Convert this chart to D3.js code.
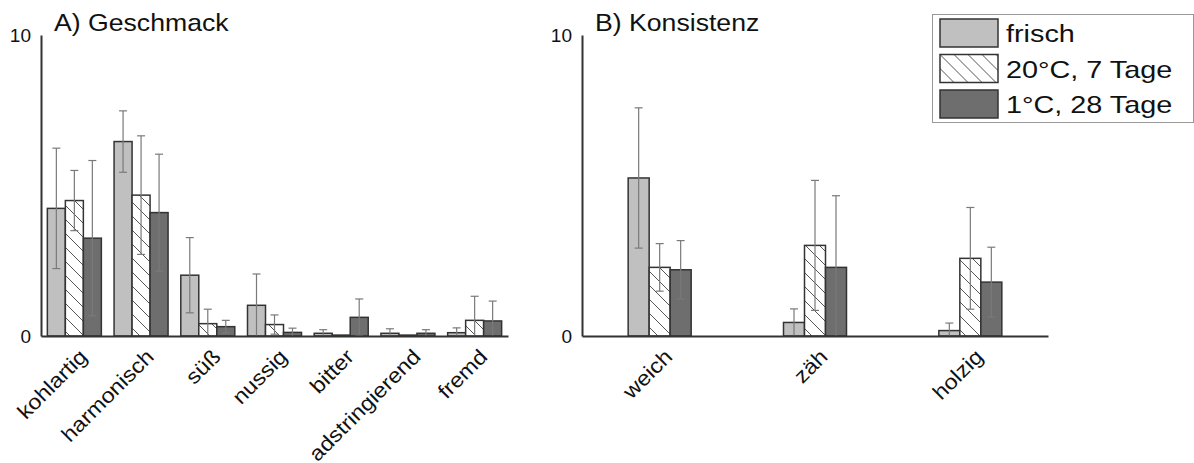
<!DOCTYPE html>
<html>
<head>
<meta charset="utf-8">
<script src="https://cdn.jsdelivr.net/npm/d3@7"></script>
<style>
  html, body { margin: 0; padding: 0; background: #fff; }
  svg { display: block; font-family: "Liberation Sans", Arial, sans-serif; }
</style>
</head>
<body>
<svg id="chart" width="1194" height="463"></svg>
<script>
const series = ["frisch", "20°C, 7 Tage", "1°C, 28 Tage"];

// A) Geschmack
const catsA = ["kohlartig", "harmonisch", "süß", "nussig", "bitter", "adstringierend", "fremd"];
const geschmackFrisch = [4.24, 6.46, 2.02, 1.02, 0.09, 0.09, 0.11];
const geschmack20 = [4.50, 4.68, 0.41, 0.38, 0.03, 0.03, 0.52];
const geschmack1 = [3.25, 4.10, 0.31, 0.12, 0.62, 0.09, 0.50];
const errFrischA = [2.00, 1.02, 1.25, 1.04, 0.12, 0.15, 0.16];
const err20A = [1.00, 1.97, 0.48, 0.32, 0.00, 0.00, 0.80];
const err1A = [2.58, 1.94, 0.21, 0.14, 0.61, 0.12, 0.66];

// B) Konsistenz
const catsB = ["weich", "zäh", "holzig"];
const konsistenzFrisch = [5.25, 0.45, 0.18];
const konsistenz20 = [2.28, 3.01, 2.58];
const konsistenz1 = [2.20, 2.28, 1.79];
const errFrischB = [2.33, 0.45, 0.25];
const err20B = [0.79, 2.16, 1.69];
const err1B = [0.97, 2.38, 1.16];

const yTicks = [0, 10];

const svg = d3.select("#chart");
const fills = ["#c0c0c0", "url(#hatch)", "#6e6e6e"];
const stretch = 1.11;

const defs = svg.append("defs");
const pat = defs.append("pattern").attr("id", "hatch")
  .attr("patternUnits", "userSpaceOnUse").attr("width", 14).attr("height", 14);
pat.append("rect").attr("width", 14).attr("height", 14).attr("fill", "#fff");
pat.append("path").attr("d", "M-1,-1 L15,15 M-8,6 L1,15 M6,-8 L15,1")
  .attr("stroke", "#555").attr("stroke-width", 1);

const y = d3.scaleLinear().domain([0, 10]).range([336, 35]);

function panel(cats, vals, errs, x0, x1, barW, title) {
  const x = d3.scaleBand().domain(cats).range([x0, x1]);
  const groupW = barW * 3;
  const inner = d3.scaleBand().domain(series)
    .range([(x.bandwidth() - groupW) / 2, (x.bandwidth() + groupW) / 2]);

  const g = svg.append("g");

  const rows = cats.flatMap((c, i) => series.map((s, j) => ({
    cat: c, s, j, v: vals[j][i], e: errs[j][i]
  })));

  g.selectAll("rect.bar").data(rows).enter().append("rect")
    .attr("class", "bar")
    .attr("x", d => x(d.cat) + inner(d.s))
    .attr("y", d => y(d.v))
    .attr("width", inner.bandwidth())
    .attr("height", d => y(0) - y(d.v))
    .attr("fill", d => fills[d.j])
    .attr("stroke", "#333")
    .attr("stroke-width", 1.5);

  // error bars
  const eb = g.selectAll("g.err").data(rows.filter(d => d.e > 0)).enter().append("g")
    .attr("class", "err")
    .attr("stroke", "#7a7a7a").attr("stroke-width", 1.2);
  const cx = d => x(d.cat) + inner(d.s) + inner.bandwidth() / 2;
  eb.append("line")
    .attr("x1", cx).attr("x2", cx)
    .attr("y1", d => y(d.v + d.e)).attr("y2", d => y(Math.max(0, d.v - d.e)));
  eb.append("line")
    .attr("x1", d => cx(d) - 4).attr("x2", d => cx(d) + 4)
    .attr("y1", d => y(d.v + d.e)).attr("y2", d => y(d.v + d.e));
  eb.filter(d => d.v - d.e > 0).append("line")
    .attr("x1", d => cx(d) - 4).attr("x2", d => cx(d) + 4)
    .attr("y1", d => y(d.v - d.e)).attr("y2", d => y(d.v - d.e));

  // y axis
  const ya = g.append("g").attr("transform", `translate(${x0},0)`)
    .call(d3.axisLeft(y).tickValues(yTicks).tickSize(0).tickPadding(10).tickFormat(d3.format("d")));
  ya.select(".domain").attr("stroke", "#333").attr("stroke-width", 2);
  ya.selectAll("text").attr("font-size", 19).attr("fill", "#111")
    .attr("font-family", "Liberation Sans, Arial, sans-serif");

  // x axis
  const xa = g.append("g").attr("transform", `translate(0,${y(0)})`)
    .call(d3.axisBottom(x).tickSize(0).tickFormat(""));
  xa.select(".domain").attr("stroke", "#333").attr("stroke-width", 2);

  g.selectAll("text.cat").data(cats).enter().append("text")
    .attr("class", "cat")
    .attr("transform", d => `translate(${x(d) + x.bandwidth() / 2 + 14},358) rotate(-45) scale(${stretch},1)`)
    .attr("text-anchor", "end")
    .attr("font-size", 21)
    .attr("fill", "#111")
    .text(d => d);

  g.append("text")
    .attr("transform", `translate(${x0 + 13},31) scale(${stretch},1)`)
    .attr("font-size", 24)
    .attr("fill", "#111")
    .text(title);
}

panel(catsA, [geschmackFrisch, geschmack20, geschmack1], [errFrischA, err20A, err1A], 41, 508, 18, "A) Geschmack");
panel(catsB, [konsistenzFrisch, konsistenz20, konsistenz1], [errFrischB, err20B, err1B], 582, 1048, 21, "B) Konsistenz");

// legend
const lg = svg.append("g").attr("transform", "translate(932,14)");
lg.append("rect").attr("x", 0.5).attr("y", 0.5).attr("width", 261).attr("height", 108)
  .attr("fill", "#fff").attr("stroke", "#999").attr("stroke-width", 1);
const item = lg.selectAll("g.item").data(series).enter().append("g")
  .attr("class", "item")
  .attr("transform", (d, i) => `translate(8,${5 + i * 35.5})`);
item.append("rect").attr("width", 58).attr("height", 28)
  .attr("fill", (d, i) => fills[i]).attr("stroke", "#333").attr("stroke-width", 1.5);
item.append("text")
  .attr("transform", `translate(66,23) scale(1.2,1)`)
  .attr("font-size", 24).attr("fill", "#111")
  .text(d => d);
</script>
</body>
</html>
